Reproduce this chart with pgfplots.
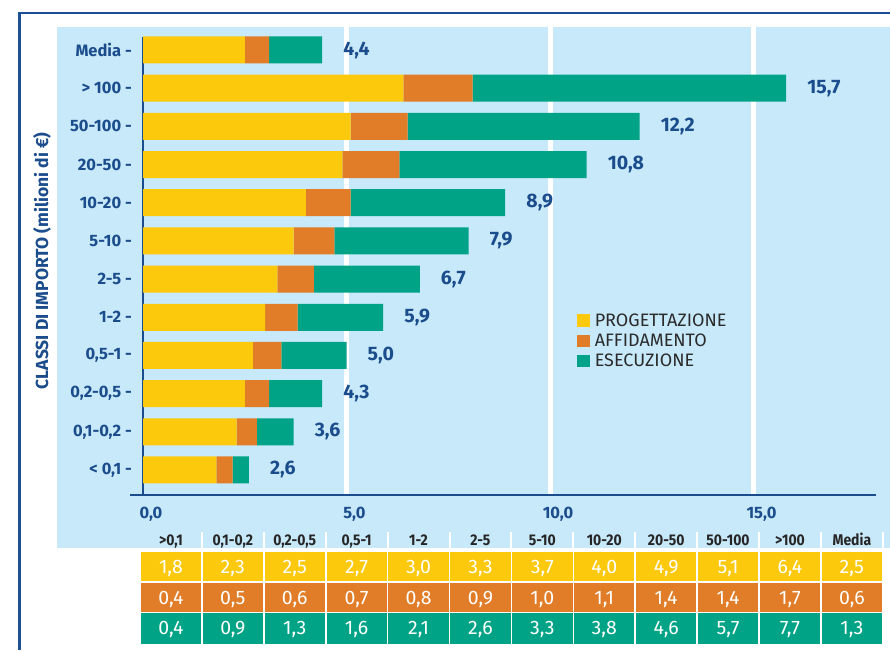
\documentclass[border=0pt]{standalone}
\usepackage{pgfplots}
\usepackage{pgfplotstable}
\pgfplotsset{compat=1.18}
\usepackage{fontspec}
\setmainfont{Fira Sans}
\newfontfamily\condfont[FakeStretch=0.9]{Fira Sans}

\definecolor{yel}{HTML}{FCC90D}
\definecolor{ora}{HTML}{E17D28}
\definecolor{grn}{HTML}{00A386}
\definecolor{bgb}{HTML}{C7E9F9}
\definecolor{dblue}{HTML}{1B4C8C}
\definecolor{fblue}{HTML}{1D4F96}
\definecolor{lgray}{HTML}{2B2B2B}
\definecolor{hgray}{HTML}{262626}

\pgfplotstableread{
pos prog aff ese tot
0  1.8 0.4 0.4 2.6
1  2.3 0.5 0.9 3.6
2  2.5 0.6 1.3 4.3
3  2.7 0.7 1.6 5.0
4  3.0 0.8 2.1 5.9
5  3.3 0.9 2.6 6.7
6  3.7 1.0 3.3 7.9
7  4.0 1.1 3.8 8.9
8  4.9 1.4 4.6 10.8
9  5.1 1.4 5.7 12.2
10 6.4 1.7 7.7 15.7
11 2.5 0.6 1.3 4.4
}\datatable

\pgfplotsset{
  sqleg/.style={legend image code/.code={\fill[##1] (0pt,-6.35pt) rectangle (12.7pt,6.35pt);}},
  geom/.style={at={(143pt,155pt)}, anchor=south west,
    scale only axis, width=732.6pt, height=458pt,
    xmin=0, xmax=18, ymin=-0.655, ymax=11.34, clip=false},
}

\begin{document}
\begin{tikzpicture}[x=1pt,y=1pt]
\path[use as bounding box] (0,0) rectangle (890,650);
\fill[white] (0,0) rectangle (890,650);
% frame
\draw[fblue, line width=2.5pt] (19.5,0) -- (19.5,637) -- (890,637);
% light blue background
\fill[bgb] (57,102) rectangle (890,623);
% white grid lines (x = 5, 10, 15)
\foreach \gx in {346.5,550,753.5}{\draw[white, line width=5pt] (\gx,155) -- (\gx,623);}

\begin{axis}[
  geom,
  xbar stacked, bar width=27pt,
  axis line style={draw=none},
  major tick length=0pt,
  xtick={0,5,10,15},
  xticklabels={{0,0},{5,0},{10,0},{15,0}},
  ytick={0,...,11},
  yticklabels={{< 0,1 -},{0,1-0,2 -},{0,2-0,5 -},{0,5-1 -},{1-2 -},{2-5 -},{5-10 -},{10-20 -},{20-50 -},{50-100 -},{> 100 -},{Media -}},
  xticklabel style={font=\bfseries\fontsize{16.5}{16.5}\selectfont, text=dblue, inner sep=0pt, anchor=north, yshift=-11.5pt, xshift=8pt},
  yticklabel style={font=\bfseries\fontsize{16.5}{16.5}\selectfont, text=dblue, inner sep=0pt, anchor=east, xshift=-11pt},
  ylabel={CLASSI DI IMPORTO (milioni di €)},
  every axis y label/.style={at={(axis description cs:-0.138,0.511)}, rotate=90, anchor=center, font=\bfseries\fontsize{17.5}{17.5}\selectfont, text=dblue},
  legend style={at={(axis cs:10.66,4.151)}, anchor=north west, draw=none, fill=none, inner sep=0pt,
    font=\fontsize{18}{18}\selectfont, text=lgray, row sep=2pt, column sep=3pt},
  legend cell align=left,
]
\addplot[fill=yel, draw=none, sqleg] table[x=prog, y=pos]{\datatable};
\addplot[fill=ora, draw=none, sqleg] table[x=aff, y=pos]{\datatable};
\addplot[fill=grn, draw=none, sqleg] table[x=ese, y=pos]{\datatable};
\legend{PROGETTAZIONE, AFFIDAMENTO, ESECUZIONE}

% axis lines
\draw[dblue, line width=2.4pt] (axis cs:-0.32,-0.655) -- (axis cs:18,-0.655);
\draw[dblue, line width=2.4pt] (axis cs:0,-0.655) -- (axis cs:0,11.34);
\end{axis}

% totals at the end of the bars
\begin{axis}[geom, hide axis]
\addplot[only marks, mark=*, mark size=0pt, draw=none, fill=none, point meta=explicit,
  nodes near coords={\pgfmathprintnumber[fixed,fixed zerofill,precision=1,use comma,assume math mode=true]{\pgfplotspointmeta}},
  every node near coord/.append style={anchor=west, inner sep=0pt, xshift=21pt, font=\bfseries\fontsize{19.5}{19.5}\selectfont, text=dblue}]
  table[x expr=\thisrow{prog}+\thisrow{aff}+\thisrow{ese}, y=pos, meta=tot]{\datatable};
\end{axis}

% table below the chart
\foreach \k/\h in {0/{>0,1},1/{0,1-0,2},2/{0,2-0,5},3/{0,5-1},4/{1-2},5/{2-5},6/{5-10},7/{10-20},8/{20-50},9/{50-100},10/{>100},11/{Media}}{
  \pgfmathsetmacro{\xl}{140+61.9*\k}
  \pgfmathsetmacro{\xc}{\xl+30.95}
  \pgfmathsetmacro{\xr}{\xl+61.9}
  \node[anchor=base, inner sep=0pt, text=hgray, font=\condfont\bfseries\fontsize{15.5}{15.5}\selectfont] at (\xc,104.5) {\h};
  \draw[white, line width=2pt] (\xr,101) -- (\xr,118);
  \fill[yel] (\xl,68) rectangle (\xr,98.5);
  \fill[ora] (\xl,37.5) rectangle (\xr,68);
  \fill[grn] (\xl,6.5) rectangle (\xr,37.5);
  \pgfplotstablegetelem{\k}{prog}\of\datatable
  \node[anchor=base, inner sep=0pt, text=white, font=\fontsize{19.5}{19.5}\selectfont] at (\xc,76.3) {\pgfmathprintnumber[fixed,fixed zerofill,precision=1,use comma,assume math mode=true]{\pgfplotsretval}};
  \pgfplotstablegetelem{\k}{aff}\of\datatable
  \node[anchor=base, inner sep=0pt, text=white, font=\fontsize{19.5}{19.5}\selectfont] at (\xc,45.8) {\pgfmathprintnumber[fixed,fixed zerofill,precision=1,use comma,assume math mode=true]{\pgfplotsretval}};
  \pgfplotstablegetelem{\k}{ese}\of\datatable
  \node[anchor=base, inner sep=0pt, text=white, font=\fontsize{19.5}{19.5}\selectfont] at (\xc,15.3) {\pgfmathprintnumber[fixed,fixed zerofill,precision=1,use comma,assume math mode=true]{\pgfplotsretval}};
}
% white cell borders
\foreach \k in {0,...,12}{
  \pgfmathsetmacro{\xx}{140+61.9*\k}
  \draw[white, line width=1.6pt] (\xx,6.5) -- (\xx,98.5);
}
\draw[white, line width=1.6pt] (140,68) -- (882.8,68);
\draw[white, line width=1.6pt] (140,37.5) -- (882.8,37.5);
\end{tikzpicture}
\end{document}
